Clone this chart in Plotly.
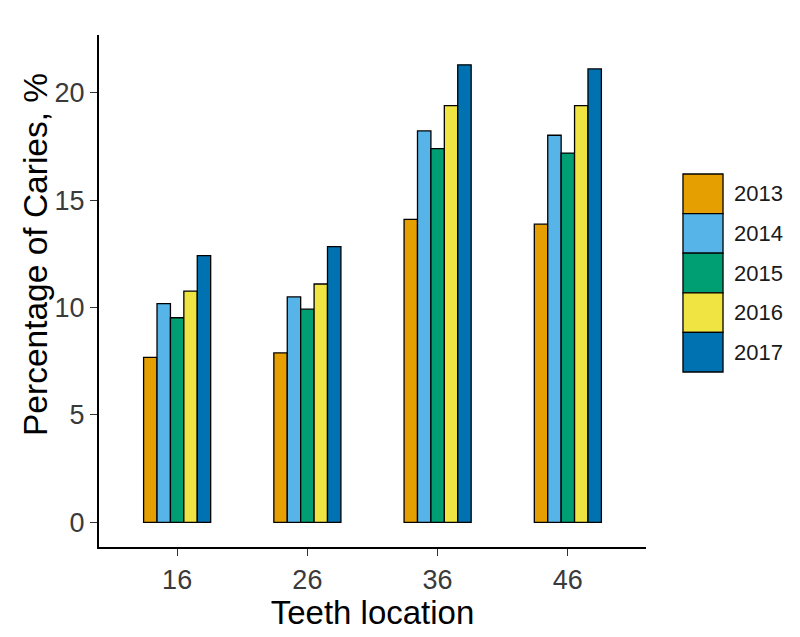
import plotly.graph_objects as go

locations = ["16", "26", "36", "46"]
years = ["2013", "2014", "2015", "2016", "2017"]
colors = ["#E69F00", "#56B4E9", "#009E73", "#F0E442", "#0072B2"]

v2013 = [7.68, 7.89, 14.11, 13.89]
v2014 = [10.19, 10.50, 18.23, 18.03]
v2015 = [9.53, 9.93, 17.41, 17.20]
v2016 = [10.77, 11.10, 19.41, 19.41]
v2017 = [12.42, 12.84, 21.31, 21.12]
series = [v2013, v2014, v2015, v2016, v2017]

y_ticks = [0, 5, 10, 15, 20]

FONT = "Liberation Sans, Arial, sans-serif"

fig = go.Figure()
for yr, col, vals in zip(years, colors, series):
    fig.add_trace(go.Bar(
        x=locations, y=vals, name=yr,
        marker=dict(color=col, line=dict(color="black", width=1.3)),
        showlegend=False,
    ))

# ggplot-style legend keys drawn as shapes + text (pixel positions relative to page)
top_px, key_h = 174, 39.6
area_top, area_h = 35, 512
for i, (yr, col) in enumerate(zip(years, colors)):
    y0 = (area_top + area_h - (top_px + (i + 1) * key_h)) / area_h
    y1 = (area_top + area_h - (top_px + i * key_h)) / area_h
    fig.add_shape(type="rect", xref="paper", yref="paper",
                  x0=1.0676, x1=1.1408, y0=y0, y1=y1,
                  fillcolor=col, line=dict(color="black", width=1.3))
    fig.add_annotation(xref="paper", yref="paper", x=1.158, y=(y0 + y1) / 2,
                       text=yr, showarrow=False, xanchor="left", yanchor="middle",
                       font=dict(family=FONT, size=22, color="#1a1a1a"))

# y-axis title
fig.add_annotation(xref="paper", yref="paper", x=-0.117, y=(area_top + area_h - 255) / area_h,
                   text="Percentage of Caries, %", textangle=-90, showarrow=False,
                   xanchor="center", yanchor="middle",
                   font=dict(family=FONT, size=33.5, color="black"))

# page body has an 8px margin, so the figure is sized/offset to compensate
fig.update_layout(
    width=792, height=629,
    margin=dict(l=91, r=154, t=27, b=90),
    paper_bgcolor="white", plot_bgcolor="white",
    barmode="group", bargap=0.485, bargroupgap=0,
    font=dict(family=FONT),
    xaxis=dict(
        range=[-0.6, 3.6], showline=True, linecolor="black", linewidth=2.2,
        ticks="outside", ticklen=7, tickcolor="#333333", tickwidth=1.2,
        tickfont=dict(family=FONT, size=27, color="#3a3a3a"),
        showgrid=False, zeroline=False, automargin=False,
        title=dict(text="Teeth location", font=dict(family=FONT, size=33, color="black"), standoff=2),
    ),
    yaxis=dict(
        range=[-1.15, 22.7], showline=True, linecolor="black", linewidth=2.2,
        ticks="outside", ticklen=7, tickcolor="#333333", tickwidth=1.2,
        tickvals=y_ticks, ticktext=[str(t) for t in y_ticks],
        tickfont=dict(family=FONT, size=27, color="#3a3a3a"),
        showgrid=False, zeroline=False, automargin=False,
    ),
)

fig.write_html("out.html")
